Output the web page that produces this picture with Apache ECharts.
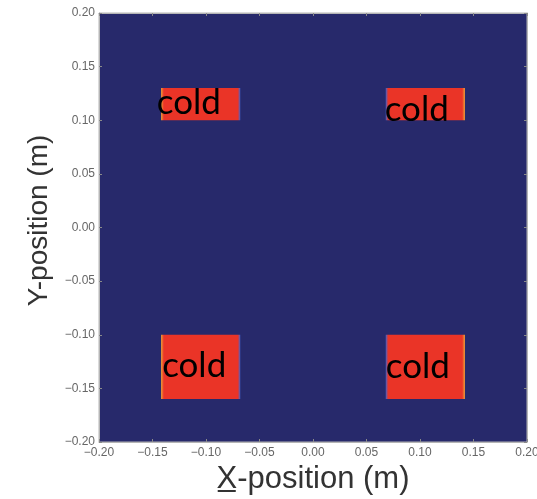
<!DOCTYPE html>
<html>
<head>
<meta charset="utf-8">
<script src="https://cdn.jsdelivr.net/npm/echarts@6/dist/echarts.min.js"></script>
<style>
html,body{margin:0;padding:0;background:#ffffff;}
#chart{width:537px;height:499px;}
</style>
</head>
<body>
<div id="chart"></div>
<script>
// Axis ranges / ticks
const axisMin = -0.2;
const axisMax = 0.2;
const tickStep = 0.05;

// Rectangular regions (data coordinates, metres)
const rectX0 = [-0.142, 0.068, -0.142, 0.068];
const rectX1 = [-0.068, 0.142, -0.068, 0.142];
const rectY0 = [0.100, 0.100, -0.160, -0.160];
const rectY1 = [0.130, 0.130, -0.100, -0.100];
const rectHotSide = ['left', 'right', 'left', 'right'];

// Annotation labels
const labelText = ['cold', 'cold', 'cold', 'cold'];
const labelX = [-0.146, 0.067, -0.141, 0.068];
const labelY = [0.116, 0.110, -0.129, -0.130];

const xName = 'X\u0332-position (m)';
const yName = 'Y-position (m)';

function fmt(v) {
  const a = Math.abs(v).toFixed(2);
  return (v < -1e-9 ? '\u2212' : '') + a;
}

const rectData = rectX0.map((x0, i) => [x0, rectX1[i], rectY0[i], rectY1[i], i]);
const labelData = labelX.map((x, i) => [x, labelY[i], i]);

const chart = echarts.init(document.getElementById('chart'), null, {renderer: 'canvas'});

const tickLabel = {
  show: true,
  color: '#666666',
  fontFamily: 'Liberation Sans, Arial, sans-serif',
  fontSize: 12,
  formatter: fmt,
  showMinLabel: true,
  showMaxLabel: true,
  hideOverlap: false
};

const baseAxis = {
  type: 'value',
  min: axisMin,
  max: axisMax,
  interval: tickStep,
  splitLine: {show: false},
  axisLine: {show: true, onZero: false, lineStyle: {color: '#b5b5b5', width: 1}},
  axisTick: {show: true, inside: true, length: 3, lineStyle: {color: '#8a8a8a'}}
};

const option = {
  animation: false,
  backgroundColor: '#ffffff',
  grid: {
    left: 99, right: 10, top: 13, bottom: 57,
    containLabel: false,
    outerBoundsMode: 'none',
    show: true,
    backgroundColor: '#27296b',
    borderColor: '#b5b5b5',
    borderWidth: 1
  },
  xAxis: [
    Object.assign({}, baseAxis, {
      position: 'bottom',
      axisLabel: Object.assign({}, tickLabel, {margin: 5}),
      name: xName,
      nameLocation: 'middle',
      nameGap: 21,
      nameTextStyle: {color: '#333333', fontSize: 31, fontFamily: 'Liberation Sans, Arial, sans-serif'}
    }),
    Object.assign({}, baseAxis, {
      position: 'top',
      axisLabel: {show: false}
    })
  ],
  yAxis: [
    Object.assign({}, baseAxis, {
      position: 'left',
      axisLabel: Object.assign({}, tickLabel, {margin: 4}),
      name: yName,
      nameLocation: 'middle',
      nameGap: 44,
      nameTextStyle: {color: '#333333', fontSize: 28, fontFamily: 'Liberation Sans, Arial, sans-serif', padding: [0, 0, 0, 14]}
    }),
    Object.assign({}, baseAxis, {
      position: 'right',
      axisLabel: {show: false}
    })
  ],
  series: [
    {
      type: 'custom',
      xAxisIndex: 0,
      yAxisIndex: 0,
      data: rectData,
      encode: {x: [0, 1], y: [2, 3]},
      renderItem: function (params, api) {
        const x0 = api.value(0), x1 = api.value(1), y0 = api.value(2), y1 = api.value(3);
        const idx = api.value(4);
        const p0 = api.coord([x0, y1]);
        const p1 = api.coord([x1, y0]);
        const hot = '#f0a236';
        const red = '#ea3427';
        const blue = '#3f63cf';
        const leftHot = rectHotSide[idx] === 'left';
        const stops = leftHot
          ? [{offset: 0, color: hot}, {offset: 0.035, color: red}, {offset: 0.97, color: red}, {offset: 1, color: blue}]
          : [{offset: 0, color: blue}, {offset: 0.03, color: red}, {offset: 0.965, color: red}, {offset: 1, color: hot}];
        return {
          type: 'rect',
          shape: {x: p0[0], y: p0[1], width: p1[0] - p0[0], height: p1[1] - p0[1]},
          style: {fill: new echarts.graphic.LinearGradient(0, 0, 1, 0, stops)}
        };
      },
      z: 2
    },
    {
      type: 'custom',
      xAxisIndex: 0,
      yAxisIndex: 0,
      data: labelData,
      encode: {x: 0, y: 1},
      renderItem: function (params, api) {
        const p = api.coord([api.value(0), api.value(1)]);
        const idx = api.value(2);
        return {
          type: 'text',
          x: p[0],
          y: p[1],
          style: {
            text: labelText[idx],
            fill: '#000000',
            font: '35px Lato, "Open Sans", sans-serif',
            align: 'left',
            verticalAlign: 'middle'
          }
        };
      },
      z: 3
    }
  ]
};

chart.setOption(option);
</script>
</body>
</html>
